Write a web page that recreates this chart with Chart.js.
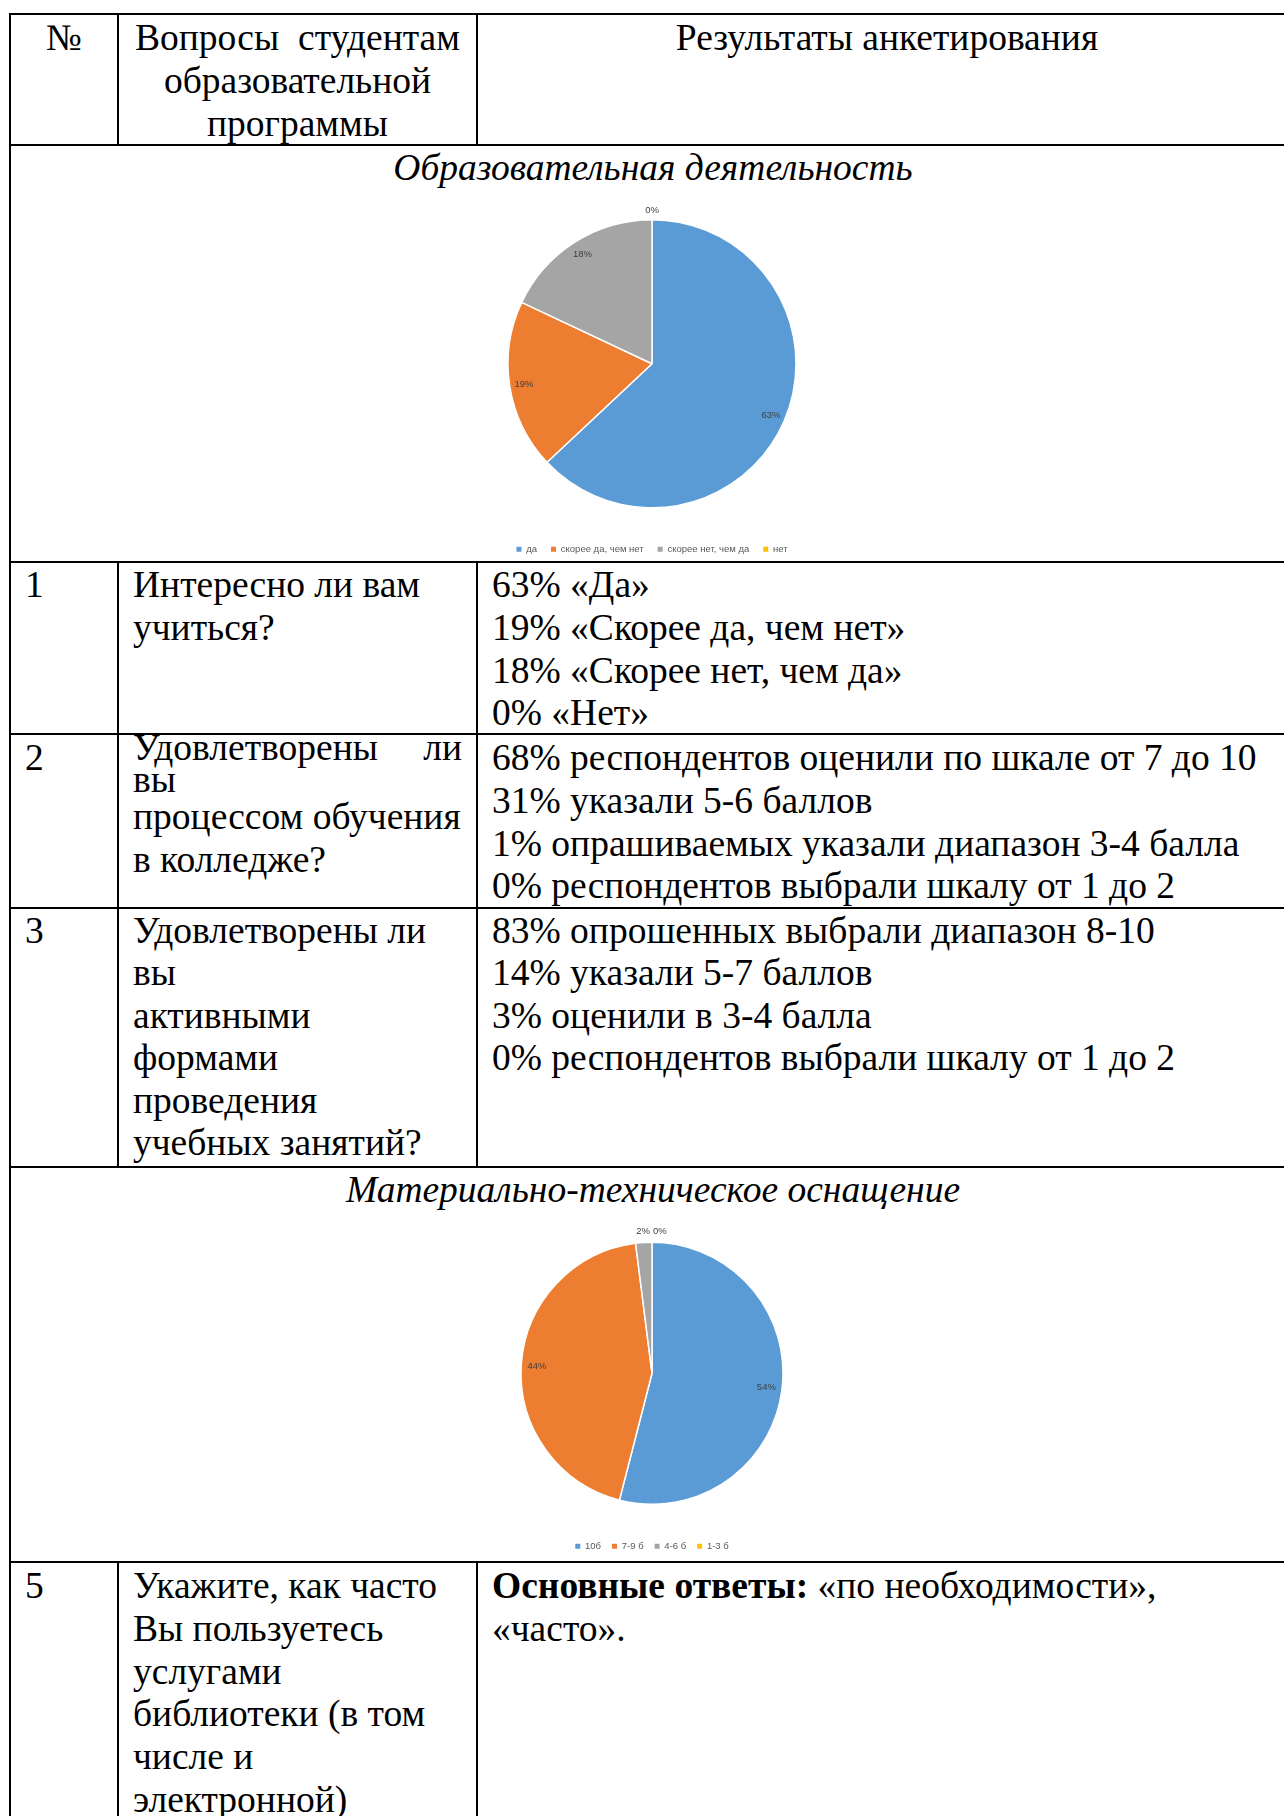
<!DOCTYPE html>
<html lang="ru">
<head>
<meta charset="utf-8">
<script src="https://cdn.jsdelivr.net/npm/chart.js@4.4.1/dist/chart.umd.min.js"></script>
<style>
html, body { margin: 0; padding: 0; background: #fff; }
body {
    width: 1284px; height: 1816px; position: relative; overflow: hidden;
    font-family: "Liberation Serif", "Times New Roman", serif;
    font-size: 37.5px; line-height: 42.8px; color: #000;
}
.h { position: absolute; height: 2px; background: #000; left: 9px; width: 1290px; }
.v { position: absolute; width: 2px; background: #000; }
.t { position: absolute; white-space: nowrap; }
.c0 { left: 10px; width: 108px; }
.n { left: 25px; }
.q { left: 133px; }
.a { left: 492px; }
.j { display: flex; justify-content: space-between; }
.tight { line-height: 30px; }
.sec { left: 10px; width: 1286px; text-align: center; font-style: italic; }
canvas { position: absolute; }
</style>
</head>
<body>

<!-- линии таблицы -->
<div class="h" style="top:13px"></div>
<div class="h" style="top:144px"></div>
<div class="h" style="top:561px"></div>
<div class="h" style="top:733px"></div>
<div class="h" style="top:907px"></div>
<div class="h" style="top:1166px"></div>
<div class="h" style="top:1561px"></div>
<div class="v" style="left:9px; top:13px; height:1803px"></div>
<div class="v" style="left:117px; top:13px; height:133px"></div>
<div class="v" style="left:476px; top:13px; height:133px"></div>
<div class="v" style="left:117px; top:561px; height:607px"></div>
<div class="v" style="left:476px; top:561px; height:607px"></div>
<div class="v" style="left:117px; top:1561px; height:255px"></div>
<div class="v" style="left:476px; top:1561px; height:255px"></div>

<!-- шапка -->
<div class="t c0" style="top:17px; text-align:center">№</div>
<div class="t" style="top:17px; left:119px; width:357px; text-align:center">
    <div class="j" style="margin:0 16px"><span>Вопросы</span><span>студентам</span></div>
    <div>образовательной</div>
    <div>программы</div>
</div>
<div class="t" style="top:17px; left:478px; width:818px; text-align:center">Результаты анкетирования</div>

<div class="t sec" style="top:147px">Образовательная деятельность</div>
<canvas id="pie1" width="440" height="367" style="left:432px; top:197px"></canvas>

<!-- строка 1 -->
<div class="t n" style="top:564px">1</div>
<div class="t q" style="top:564px">Интересно ли вам<br>учиться?</div>
<div class="t a" style="top:564px">63% «Да»<br>19% «Скорее да, чем нет»<br>18% «Скорее нет, чем да»<br>0% «Нет»</div>

<!-- строка 2 -->
<div class="t n" style="top:737px">2</div>
<div class="t q j tight" style="top:733px; width:329px"><span>Удовлетворены</span><span>ли</span></div>
<div class="t q tight" style="top:765px">вы</div>
<div class="t q" style="top:796px">процессом обучения<br>в колледже?</div>
<div class="t a" style="top:737px">68% респондентов оценили по шкале от 7 до 10<br>31% указали 5-6 баллов<br>1% опрашиваемых указали диапазон 3-4 балла<br>0% респондентов выбрали шкалу от 1 до 2</div>

<!-- строка 3 -->
<div class="t n" style="top:910px">3</div>
<div class="t q" style="top:910px; line-height:42.4px">Удовлетворены ли<br>вы<br>активными<br>формами<br>проведения<br>учебных занятий?</div>
<div class="t a" style="top:910px; line-height:42.4px">83% опрошенных выбрали диапазон 8-10<br>14% указали 5-7 баллов<br>3% оценили в 3-4 балла<br>0% респондентов выбрали шкалу от 1 до 2</div>

<div class="t sec" style="top:1169px">Материально-техническое оснащение</div>
<canvas id="pie2" width="440" height="345" style="left:432px; top:1216px"></canvas>

<!-- строка 5 -->
<div class="t n" style="top:1565px">5</div>
<div class="t q" style="top:1565px">Укажите, как часто<br>Вы пользуетесь<br>услугами<br>библиотеки (в том<br>числе и<br>электронной)</div>
<div class="t a" style="top:1565px"><b>Основные ответы:</b> «по необходимости»,<br>«часто».</div>

<script>
// данные диаграмм
const labels1 = ['да', 'скорее да, чем нет', 'скорее нет, чем да', 'нет'];
const values1 = [63, 19, 18, 0];
const labels2 = ['10б', '7-9 б', '4-6 б', '1-3 б'];
const values2 = [54, 44, 2, 0];
const colors = ['#5B9BD5', '#ED7D31', '#A5A5A5', '#FFC000'];

// подписи процентов на секторах
const pctLabels = {
    id: 'pctLabels',
    afterDatasetsDraw(chart, args, opts) {
        const ctx = chart.ctx;
        const meta = chart.getDatasetMeta(0);
        const data = chart.data.datasets[0].data;
        ctx.save();
        ctx.font = '9.5px "Liberation Sans", Arial, sans-serif';
        ctx.fillStyle = '#404040';
        ctx.textBaseline = 'middle';
        ctx.textAlign = 'center';
        let prevRight = -Infinity;
        meta.data.forEach(function(arc, i) {
            const p = arc.getProps(['x', 'y', 'startAngle', 'endAngle', 'outerRadius'], true);
            const mid = (p.startAngle + p.endAngle) / 2;
            const txt = data[i] + '%';
            const w = ctx.measureText(txt).width;
            if (data[i] >= 5) {
                const r = p.outerRadius * opts.inside;
                ctx.fillText(txt, p.x + Math.cos(mid) * r, p.y + Math.sin(mid) * r);
            } else {
                const r = p.outerRadius + opts.outside;
                let x = p.x + Math.cos(mid) * r;
                if (x - w / 2 < prevRight + 3) x = prevRight + 3 + w / 2;
                ctx.fillText(txt, x, p.y + Math.sin(mid) * r);
                prevRight = x + w / 2;
            }
        });
        ctx.restore();
    }
};

function makePie(id, labels, values, radius, legendPad, inside, outside) {
    return new Chart(document.getElementById(id), {
        type: 'pie',
        data: {
            labels: labels,
            datasets: [{
                data: values,
                backgroundColor: colors,
                borderColor: '#fff',
                borderWidth: 1.5
            }]
        },
        options: {
            responsive: false,
            animation: false,
            radius: radius,
            plugins: {
                legend: {
                    position: 'bottom',
                    labels: {
                        boxWidth: 5,
                        boxHeight: 5,
                        padding: legendPad,
                        color: '#595959',
                        font: { family: '"Liberation Sans", Arial, sans-serif', size: 9.5 },
                        generateLabels: function(chart) {
                            return Chart.overrides.pie.plugins.legend.labels.generateLabels(chart).map(function(l) {
                                l.lineWidth = 0;
                                return l;
                            });
                        }
                    }
                },
                tooltip: { enabled: false },
                pctLabels: { inside: inside, outside: outside }
            }
        },
        plugins: [pctLabels]
    });
}

var pie1 = makePie('pie1', labels1, values1, 144, 14, 0.9, 9);
var pie2 = makePie('pie2', labels2, values2, 131, 11, 0.88, 11);
</script>
</body>
</html>
